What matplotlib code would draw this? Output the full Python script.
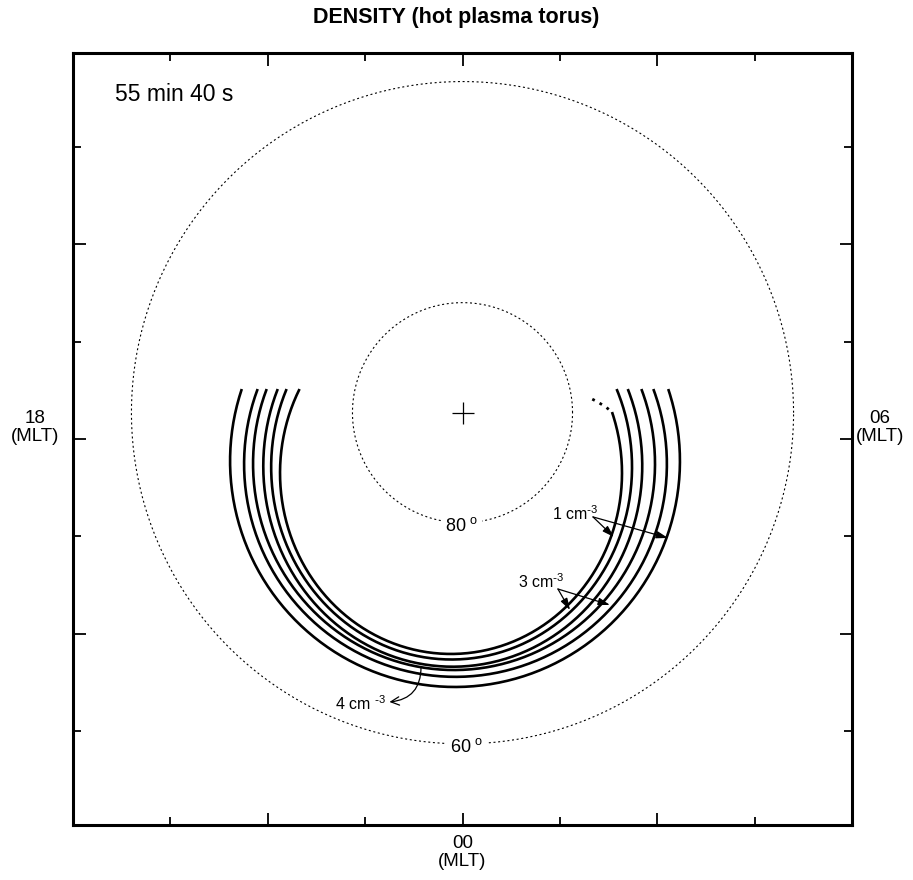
"""Hot plasma torus density map (polar view, MLT frame)."""

import numpy as np
import matplotlib
matplotlib.use('Agg')
import matplotlib.pyplot as plt
from matplotlib.ticker import FixedLocator

plt.rcParams['font.family'] = ['Liberation Sans', 'DejaVu Sans']
plt.rcParams['mathtext.default'] = 'regular'

# map units: one tick spacing = 1
pole = (0.0, 0.27)
lat_labels = ['60', '80']
lat_radius = [3.40, 1.13]

# density contours, outer -> inner (ellipse centre, semi-axes)
torus_cx = [-0.077, -0.072, -0.087, -0.100, -0.112, -0.118]
torus_cy = [-0.226, -0.257, -0.254, -0.277, -0.287, -0.349]
torus_a = [2.310, 2.171, 2.064, 1.946, 1.853, 1.756]
torus_b = [2.320, 2.185, 2.118, 2.061, 1.977, 1.858]
torus_top = 0.513          # contours are cut at this y
inner_solid_top = 0.277    # innermost contour is solid only up to here (right)
# dotted tail of the innermost contour
inner_tail_x = [1.535, 1.47, 1.38, 1.29]
inner_tail_y = [0.277, 0.33, 0.385, 0.431]

major_ticks = [-2, 0, 2]
minor_ticks = [-3, -1, 1, 3]


def ellipse_pts(cx, cy, a, b, t0, t1, n=300):
    t = np.linspace(t0, t1, n)
    return cx + a * np.cos(t), cy + b * np.sin(t)


fig = plt.figure(figsize=(9.13, 8.8), dpi=100)
ax = fig.add_axes([73 / 913, 1 - 825 / 880, 779 / 913, 772 / 880])
ax.set_xlim(-4, 4)
ax.set_ylim(-3.963, 3.963)

# latitude circles around the pole
t = np.linspace(0, 2 * np.pi, 600)
for r in lat_radius:
    ax.plot(pole[0] + r * np.cos(t), pole[1] + r * np.sin(t), color='black',
            lw=0.8, ls=(0, (1.8, 2.4)))
ax.plot(*pole, marker='+', ms=16, mew=0.9, color='black')

# torus contours
for i, (cx, cy, a, b) in enumerate(zip(torus_cx, torus_cy, torus_a, torus_b)):
    t_left = np.pi - np.arcsin((torus_top - cy) / b)
    top_right = inner_solid_top if i == len(torus_cx) - 1 else torus_top
    t_right = 2 * np.pi + np.arcsin((top_right - cy) / b)
    ax.plot(*ellipse_pts(cx, cy, a, b, t_left, t_right), color='black', lw=1.9,
            solid_capstyle='butt')
ax.plot(inner_tail_x, inner_tail_y, color='black', lw=2.0, ls=(1.5, (1, 2)))

# latitude labels (white box gives the gap in the circle)
for lab, r, dx in zip(lat_labels, lat_radius, [0.04, -0.01]):
    ax.text(pole[0] + dx, pole[1] - r - 0.03, lab + r'$^{\ o}$', fontsize=13,
            ha='center', va='center',
            bbox=dict(fc='white', ec='none', pad=3))

ax.text(-3.568, 3.542, '55 min 40 s', fontsize=16.5, ha='left', va='center')

# contour annotations
hd = dict(arrowstyle='-|>,head_length=0.7,head_width=0.22', lw=0.9,
          color='black', shrinkA=0, shrinkB=0)
ax.text(1.40, -0.83, r'1 cm$^{\text{-}3}$', fontsize=11.5, ha='right',
        va='baseline')
for end in [(1.555, -1.006), (2.11, -1.016)]:
    ax.annotate('', xy=end, xytext=(1.34, -0.80), arrowprops=hd)
ax.text(1.05, -1.53, r'3 cm$^{\text{-}3}$', fontsize=11.5, ha='right',
        va='baseline')
for end in [(1.104, -1.756), (1.514, -1.704)]:
    ax.annotate('', xy=end, xytext=(0.98, -1.54), arrowprops=hd)
ax.text(-0.79, -2.78, r'4 cm $^{\text{-}3}$', fontsize=11.5, ha='right',
        va='baseline')
ax.annotate('', xy=(-0.75, -2.70), xytext=(-0.426, -2.341),
            arrowprops=dict(arrowstyle='->,head_length=0.6,head_width=0.3',
                            lw=0.9, color='black', shrinkA=0, shrinkB=0,
                            connectionstyle='arc3,rad=-0.45'))

# frame and ticks
for s in ax.spines.values():
    s.set_linewidth(2.2)
ax.xaxis.set_major_locator(FixedLocator(major_ticks))
ax.yaxis.set_major_locator(FixedLocator(major_ticks))
ax.xaxis.set_minor_locator(FixedLocator(minor_ticks))
ax.yaxis.set_minor_locator(FixedLocator(minor_ticks))
ax.tick_params(which='both', direction='in', top=True, right=True,
               labelbottom=False, labelleft=False, width=1.3)
ax.tick_params(which='major', length=9)
ax.tick_params(which='minor', length=5.5)

# MLT labels
ax.text(0, -4.245, '00\n(MLT)', fontsize=13.5, ha='center', va='center',
        linespacing=1.1, clip_on=False)
ax.text(-4.39, 0.12, '18\n(MLT)', fontsize=13.5, ha='center', va='center',
        linespacing=1.1, clip_on=False)
ax.text(4.29, 0.12, '06\n(MLT)', fontsize=13.5, ha='center', va='center',
        linespacing=1.1, clip_on=False)

fig.text(456 / 913, 1 - 18 / 880, 'DENSITY (hot plasma torus)', fontsize=15.5,
         fontweight='bold', ha='center', va='center')

fig.savefig('out.png', dpi=100)
plt.close(fig)
